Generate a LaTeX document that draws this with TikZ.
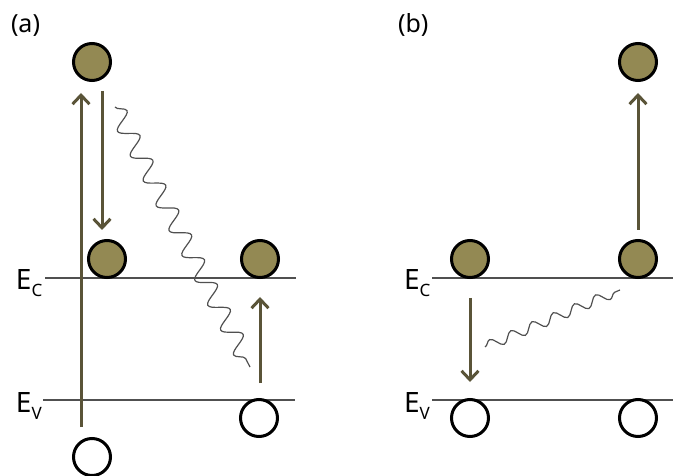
\documentclass[tikz,border=0pt]{standalone}
\usepackage{fontspec}
\setmainfont{Noto Sans}
\usetikzlibrary{arrows.meta, decorations.pathmorphing}
\definecolor{electron}{HTML}{938953}
\definecolor{arrowc}{HTML}{5A5438}
\definecolor{band}{HTML}{505050}
\newcommand{\sublabel}[2]{E\raisebox{-7pt}{\fontsize{17}{18}\selectfont #2}}

\begin{document}
\begin{tikzpicture}[x=1pt, y=-1pt,
        every node/.style={inner sep=0pt, outer sep=0pt},
        electron/.style={circle, draw=black, line width=3pt, fill=electron, minimum size=37pt},
        hole/.style={circle, draw=black, line width=3pt, fill=white, minimum size=37pt},
        bandline/.style={band, line width=1.5pt},
        lbl/.style={anchor=base west, font=\fontsize{28}{30}\selectfont},
        panel/.style={anchor=base west, font=\fontsize{25}{28}\selectfont},
        arr/.style={-{Straight Barb[length=9pt, width=17pt]}, line width=3pt, arrowc},
        phonon/.style={draw=band, line width=1.2pt, decorate},
      ]
      \useasboundingbox (0,0) rectangle (673,476);

      % (a)
      \node[panel] (tagA) at (11,33) {(a)};
      \draw[bandline] (45,278) coordinate (ecA1) -- (296,278) coordinate (ecA2);
      \draw[bandline] (43,400) coordinate (evA1) -- (295,400) coordinate (evA2);
      \node[lbl] (ecA) at (16,290) {\sublabel{E}{C}};
      \node[lbl] (evA) at (16,412) {\sublabel{E}{V}};

      \node[electron] (hotA) at (92,62) {};
      \node[electron] (cbA1) at (107,259) {};
      \node[electron] (cbA2) at (260,259) {};
      \node[hole]     (vbA2) at (259,418) {};
      \node[hole]     (deepA) at (92,457) {};

      \coordinate (upA1) at (81,427);
      \coordinate (upA2) at (81,93);
      \coordinate (dnA1) at (102,91);
      \coordinate (dnA2) at (102,230);
      \coordinate (upB1) at (260,383);
      \coordinate (upB2) at (260,297);
      \coordinate (wvA1) at (115,107);
      \coordinate (wvA2) at (250,367);

      \draw[arr] (upA1) -- (upA2);
      \draw[arr] (dnA1) -- (dnA2);
      \draw[arr] (upB1) -- (upB2);
      \draw[phonon, decoration={snake, amplitude=9pt, segment length=28pt}] (wvA1) -- (wvA2);

      % (b)
      \node[panel] (tagB) at (398,33) {(b)};
      \draw[bandline] (432,278) coordinate (ecB1) -- (673,278) coordinate (ecB2);
      \draw[bandline] (432,400) coordinate (evB1) -- (673,400) coordinate (evB2);
      \node[lbl] (ecB) at (404,290) {\sublabel{E}{C}};
      \node[lbl] (evB) at (404,412) {\sublabel{E}{V}};

      \node[electron] (hotB) at (638,62) {};
      \node[electron] (cbB1) at (470,259) {};
      \node[electron] (cbB2) at (638,259) {};
      \node[hole]     (vbB1) at (470,418) {};
      \node[hole]     (vbB2) at (638,418) {};

      \coordinate (upC1) at (638,230);
      \coordinate (upC2) at (638,93);
      \coordinate (dnB1) at (470,298);
      \coordinate (dnB2) at (470,382);
      \coordinate (wvB1) at (485,347);
      \coordinate (wvB2) at (620,290);

      \draw[arr] (upC1) -- (upC2);
      \draw[arr] (dnB1) -- (dnB2);
      \draw[phonon, decoration={snake, amplitude=5pt, segment length=23pt}] (wvB1) -- (wvB2);
    \end{tikzpicture}
\end{document}
